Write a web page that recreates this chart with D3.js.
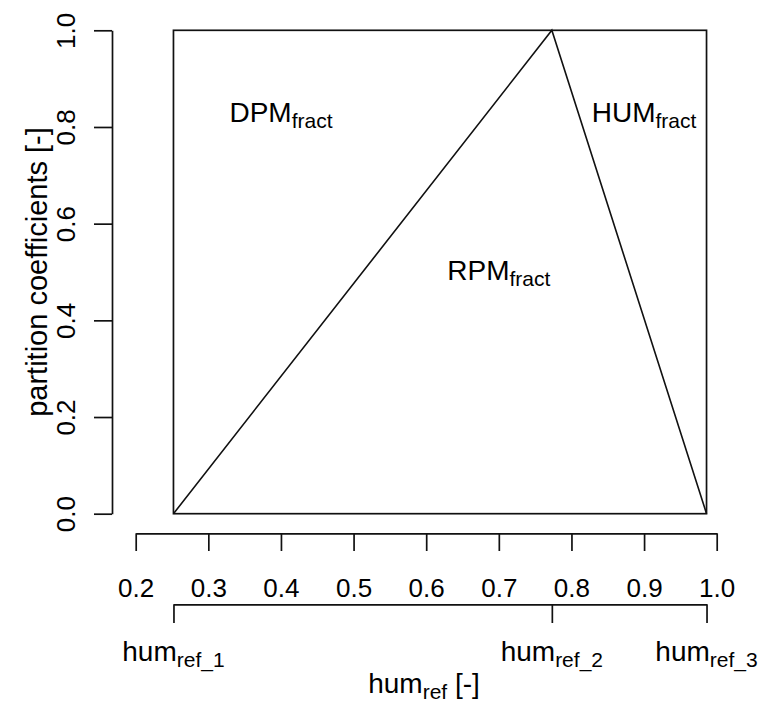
<!DOCTYPE html>
<html>
<head>
<meta charset="utf-8">
<script src="https://cdn.jsdelivr.net/npm/d3@7"></script>
<style>
  body { margin: 0; background: #fff; }
  svg text { font-family: "Liberation Sans", Arial, sans-serif; fill: #000; }
</style>
</head>
<body>
<svg width="761" height="705"></svg>
<script>
// reference humidity points and the partition boundaries
let humRef = [0.252, 0.773, 0.986];
let humRefNames = ["ref_1", "ref_2", "ref_3"];
let boundaryY = [0, 1, 0];

let xTicks = [0.2, 0.3, 0.4, 0.5, 0.6, 0.7, 0.8, 0.9, 1.0];
let yTicks = [0, 0.2, 0.4, 0.6, 0.8, 1.0];

// pool labels, placed in chart units
let pools = ["DPM", "RPM", "HUM"];
let poolX = [0.40, 0.70, 0.90];
let poolY = [0.81, 0.483, 0.81];

let svg = d3.select('svg')

let x = d3.scaleLinear().domain([0.2, 1.0]).range([135.7, 716.7])
let y = d3.scaleLinear().domain([0, 1]).range([513.7, 30.3])

let ink = "#111"

// plot box
svg.append('rect')
  .attr('x', x(humRef[0]))
  .attr('y', y(1))
  .attr('width', x(humRef[2]) - x(humRef[0]))
  .attr('height', y(0) - y(1))
  .attr('fill', 'none')
  .attr('stroke', ink)
  .attr('stroke-width', 1.7)

// partition lines
let pts = humRef.map(function(h, i) { return [h, boundaryY[i]] })
svg.append('path')
  .datum(pts)
  .attr('d', d3.line().x(function(d) { return x(d[0]) }).y(function(d) { return y(d[1]) }))
  .attr('fill', 'none')
  .attr('stroke', ink)
  .attr('stroke-width', 1.6)

// y axis, offset to the left, labels rotated like R
let yAxis = svg.append('g')
  .attr('transform', 'translate(112,0)')
  .call(d3.axisLeft(y).tickValues(yTicks).tickSize(18).tickSizeOuter(0).tickFormat(d3.format('.1f')))
yAxis.selectAll('text')
  .attr('x', 0).attr('dy', 0)
  .attr('text-anchor', 'middle')
  .attr('transform', 'translate(-37,0) rotate(-90)')
  .style('font-size', '26px')

// numeric x axis
let xAxis = svg.append('g')
  .attr('transform', 'translate(0,533.3)')
  .call(d3.axisBottom(x).tickValues(xTicks).tickSize(17.7).tickSizeOuter(0).tickPadding(27.5).tickFormat(d3.format('.1f')))
xAxis.selectAll('text').style('font-size', '26px')

// hum_ref axis
let xr = d3.scaleLinear().domain([humRef[0], humRef[2]]).range([x(humRef[0]), x(humRef[2])])
let refAxis = svg.append('g')
  .attr('transform', 'translate(0,604.3)')
  .call(d3.axisBottom(xr).tickValues(humRef).tickSize(18.7).tickSizeOuter(0).tickFormat(''))

svg.selectAll('.domain, .tick line')
  .attr('stroke', ink)
  .attr('stroke-width', 1.7)

let refLabels = svg.selectAll('text.ref').data(humRef).enter().append('text')
  .attr('class', 'ref')
  .attr('x', function(h) { return x(h) })
  .attr('y', 661)
  .attr('text-anchor', 'middle')
  .style('font-size', '28px')
refLabels.append('tspan').text('hum')
refLabels.append('tspan')
  .attr('dy', 6)
  .style('font-size', '21px')
  .text(function(h, i) { return humRefNames[i] })

// axis titles
let xt = svg.append('text')
  .attr('x', 424).attr('y', 693)
  .attr('text-anchor', 'middle')
  .style('font-size', '28px')
xt.append('tspan').text('hum')
xt.append('tspan').attr('dy', 6).style('font-size', '21px').text('ref')
xt.append('tspan').attr('dy', -6).text(' [-]')

svg.append('text')
  .attr('transform', 'translate(47,' + y(0.5) + ') rotate(-90)')
  .attr('text-anchor', 'middle')
  .style('font-size', '29px')
  .text('partition coefficients [-]')

// pool labels
let poolText = svg.selectAll('text.pool').data(pools).enter().append('text')
  .attr('class', 'pool')
  .attr('x', function(p, i) { return x(poolX[i]) })
  .attr('y', function(p, i) { return y(poolY[i]) })
  .attr('text-anchor', 'middle')
  .style('font-size', '28px')
poolText.append('tspan').text(function(p) { return p })
poolText.append('tspan').attr('dy', 6).style('font-size', '21px').text('fract')
</script>
</body>
</html>
